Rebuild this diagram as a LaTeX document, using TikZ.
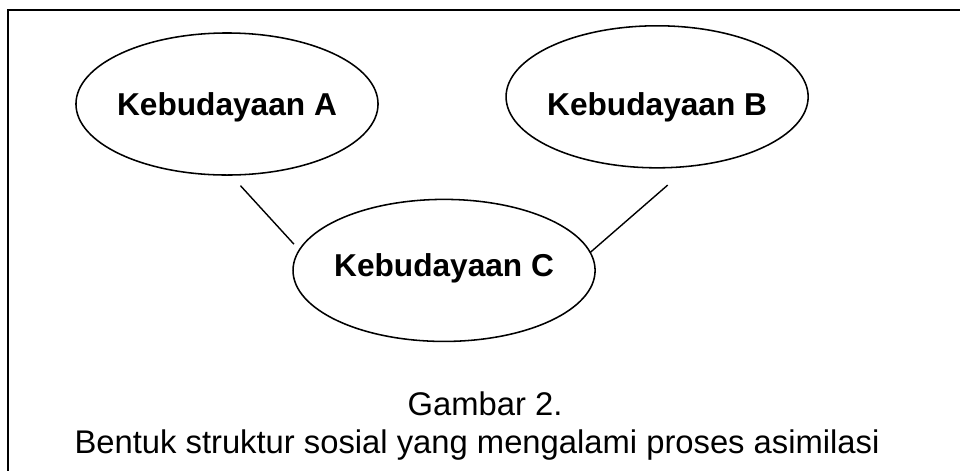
\documentclass[tikz,border=0pt]{standalone}
\usepackage{fontspec}
\setmainfont{Liberation Sans}
\usetikzlibrary{shapes,positioning,calc}

\begin{document}
\begin{tikzpicture}[x=0.025cm, y=-0.025cm, semithick]
\tikzstyle{budaya}=[ellipse, draw, line width=1.1pt, minimum width=7.55cm, minimum height=3.55cm, inner xsep=-4pt, inner ysep=0pt, outer sep=0pt, text height=16pt, text depth=0pt, font=\fontsize{22.5}{27}\selectfont\bfseries]
\tikzstyle{garis}=[line width=1pt]
\tikzstyle{keterangan}=[anchor=base, inner sep=0pt, font=\fontsize{23.3}{28}\selectfont]

\useasboundingbox (0,0) rectangle (960,470);
\draw[line width=1.4pt] (8,10) rectangle (985,495);

% three cultures
\node[budaya] (kA) at (227,104) {Kebudayaan A};
\node[budaya, text height=26pt] (kB) [right of=kA, node distance=10.75cm, yshift=0.18cm] {Kebudayaan B};
\node[budaya, text depth=7pt] (kC) at ($(kA)!0.5!(kB)+(2,170)$) {Kebudayaan C};

\path[garis] (kA.-87) edge[shorten <=0.36cm, shorten >=0.2cm] (kC.172)
      (kC.7) edge[shorten >=0.72cm] (kB.-65);

% caption
\node[keterangan] (gbr) at (485,415) {Gambar 2.};
\node[keterangan] (judul) at (477,453) {Bentuk struktur sosial yang mengalami proses asimilasi};
\end{tikzpicture}
\end{document}
